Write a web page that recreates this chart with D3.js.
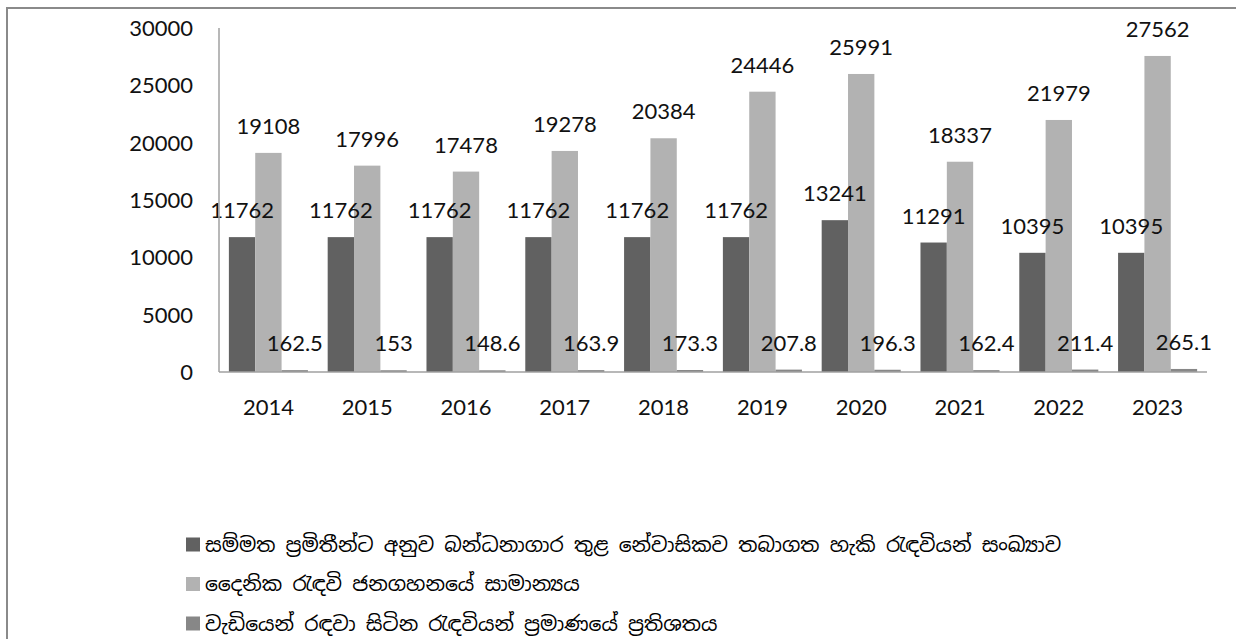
<!DOCTYPE html>
<html>
<head>
<meta charset="utf-8">
<script src="https://cdn.jsdelivr.net/npm/d3@7"></script>
<style>
  body { margin: 0; background: #fff; }
  svg { display: block; }
  text { font-family: Lato, "Open Sans", sans-serif; fill: #111; }
  .legend text { font-family: "Noto Sans Sinhala", "Noto Sans", sans-serif; fill: #000; }
</style>
</head>
<body>
<svg width="1236" height="639"></svg>
<script>
(function (d3) {
  'use strict';

  const years = ['2014', '2015', '2016', '2017', '2018', '2019', '2020', '2021', '2022', '2023'];
  const capacity = [11762, 11762, 11762, 11762, 11762, 11762, 13241, 11291, 10395, 10395];
  const dailyAverage = [19108, 17996, 17478, 19278, 20384, 24446, 25991, 18337, 21979, 27562];
  const overcrowdPct = [162.5, 153, 148.6, 163.9, 173.3, 207.8, 196.3, 162.4, 211.4, 265.1];
  const yTicks = [0, 5000, 10000, 15000, 20000, 25000, 30000];
  const seriesNames = [
    'සම්මත ප්‍රමිතීන්ට අනුව බන්ධනාගාර තුළ නේවාසිකව තබාගත හැකි රැඳවියන් සංඛ්‍යාව',
    'දෛනික රැඳවි ජනගහනයේ සාමාන්‍යය',
    'වැඩියෙන් රඳවා සිටින රැඳවියන් ප්‍රමාණයේ ප්‍රතිශතය'
  ];

  const COLORS = ['#616161', '#b2b2b2', '#878787'];
  const PLOT = { left: 219, right: 1207, top: 28, bottom: 372 };

  const svg = d3.select('svg');

  // frame around the chart (right and bottom edges fall outside the picture)
  svg.append('rect')
    .attr('x', 7).attr('y', 8)
    .attr('width', 1260).attr('height', 660)
    .attr('fill', 'none')
    .attr('stroke', '#8a8a8a')
    .attr('stroke-width', 2);

  const series = [capacity, dailyAverage, overcrowdPct];

  const x = d3.scaleBand()
    .domain(years)
    .range([PLOT.left, PLOT.right])
    .paddingInner(0.75 / 3.75)
    .paddingOuter(0.75 / 3.75 / 2);

  const xSub = d3.scaleBand()
    .domain(d3.range(series.length))
    .range([0, x.bandwidth()]);

  const y = d3.scaleLinear()
    .domain([0, 30000])
    .range([PLOT.bottom, PLOT.top]);

  // y tick labels, no tick marks
  svg.append('g')
    .selectAll('text')
    .data(yTicks)
    .join('text')
    .attr('x', 193)
    .attr('y', d => y(d))
    .attr('dy', '0.36em')
    .attr('text-anchor', 'end')
    .attr('font-size', 22)
    .text(d => d);

  // bars for each series
  const groups = svg.append('g')
    .selectAll('g')
    .data(series)
    .join('g')
    .attr('fill', (d, i) => COLORS[i]);

  groups.selectAll('rect')
    .data((vals, si) => vals.map((v, j) => ({ v, year: years[j], si })))
    .join('rect')
    .attr('x', d => x(d.year) + xSub(d.si))
    .attr('y', d => y(d.v))
    .attr('width', xSub.bandwidth())
    .attr('height', d => y(0) - y(d.v));

  // value labels above bars
  svg.append('g')
    .selectAll('g')
    .data(series)
    .join('g')
    .selectAll('text')
    .data((vals, si) => vals.map((v, j) => ({ v, year: years[j], si })))
    .join('text')
    .attr('x', d => x(d.year) + xSub(d.si) + xSub.bandwidth() / 2)
    .attr('y', d => y(d.v) - 19)
    .attr('text-anchor', 'middle')
    .attr('font-size', 22)
    .text(d => d.v);

  // axis lines
  const axisG = svg.append('g').attr('stroke', '#a0a0a0').attr('stroke-width', 1.5);
  axisG.append('line')
    .attr('x1', PLOT.left).attr('x2', PLOT.left)
    .attr('y1', PLOT.top).attr('y2', PLOT.bottom);
  axisG.append('line')
    .attr('x1', PLOT.left).attr('x2', PLOT.right)
    .attr('y1', PLOT.bottom).attr('y2', PLOT.bottom);

  // x labels
  svg.append('g')
    .selectAll('text')
    .data(years)
    .join('text')
    .attr('x', d => x(d) + x.bandwidth() / 2)
    .attr('y', 415)
    .attr('text-anchor', 'middle')
    .attr('font-size', 22)
    .text(d => d);

  // legend
  const legend = svg.append('g').attr('class', 'legend')
    .attr('transform', 'translate(186,0)');
  const rows = legend.selectAll('g')
    .data(seriesNames)
    .join('g')
    .attr('transform', (d, i) => `translate(0,${544.5 + i * 39.5})`);
  rows.append('rect')
    .attr('x', 0).attr('y', -7)
    .attr('width', 14).attr('height', 14)
    .attr('fill', (d, i) => COLORS[i]);
  rows.append('text')
    .attr('x', 19)
    .attr('dy', '0.35em')
    .attr('font-size', 20.3)
    .text(d => d);

}(d3));
</script>
</body>
</html>
